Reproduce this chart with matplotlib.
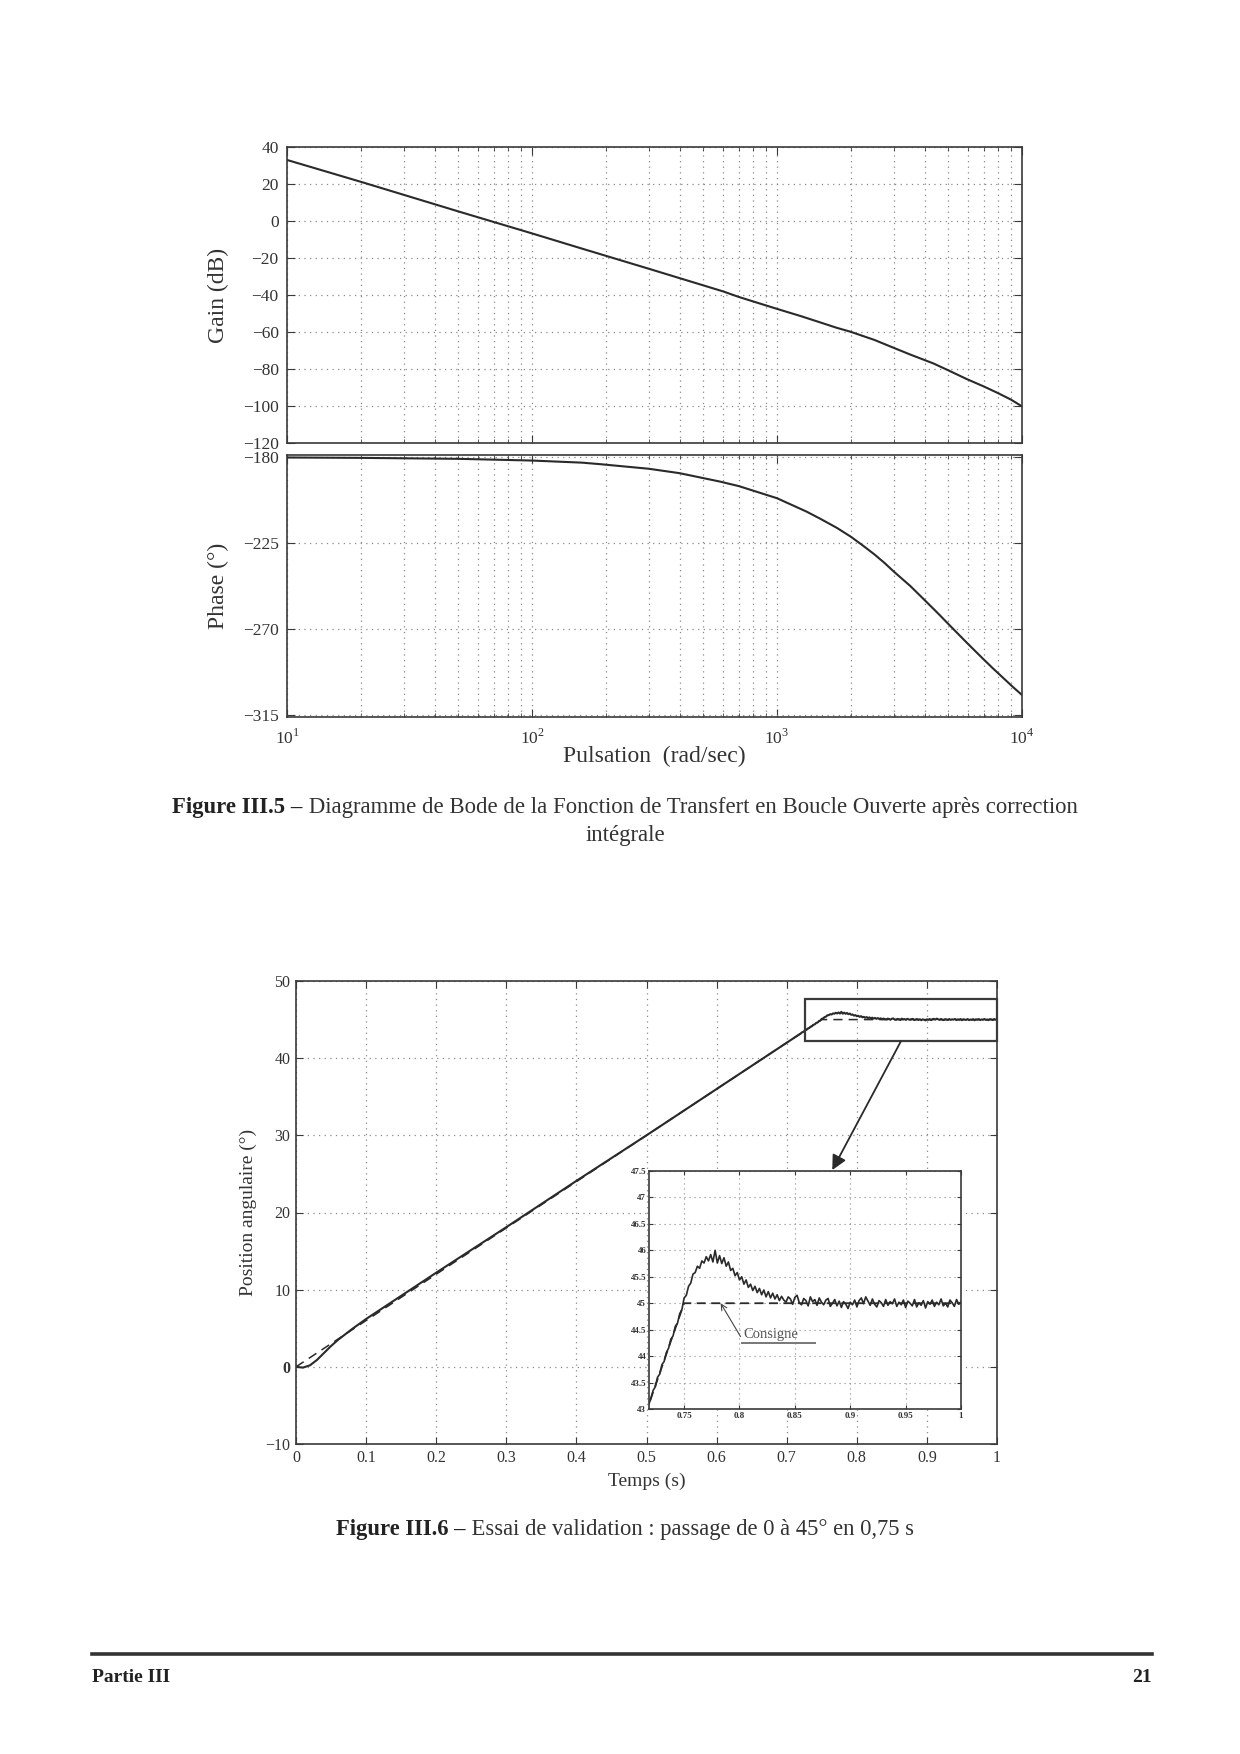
import numpy as np
import matplotlib
matplotlib.use('Agg')
import matplotlib.pyplot as plt
from matplotlib.patches import Rectangle, FancyArrowPatch
from matplotlib.lines import Line2D
from matplotlib.ticker import LogLocator, NullFormatter, FixedLocator

plt.rcParams['font.family'] = ['Liberation Serif', 'DejaVu Serif']
plt.rcParams['mathtext.fontset'] = 'custom'
plt.rcParams['mathtext.rm'] = 'Liberation Serif'
plt.rcParams['axes.unicode_minus'] = True

# ---------------- Data: Bode diagram ----------------
gain_w = [10, 20, 50, 100, 157, 303, 604, 700, 1000, 1250, 1500, 1750, 2000, 2500, 3000, 3500,
          4350, 5000, 5940, 7000, 8000, 9000, 10000]
gain_db = [33.0, 21.2, 5.2, -6.7, -14.6, -26.0, -38.1, -41.1, -47.5, -51.4, -54.8, -57.7, -59.9,
           -64.3, -68.6, -72.2, -77.0, -80.7, -85.4, -89.5, -93.1, -96.5, -100.2]

phase_w = [10, 20, 50, 100, 160, 190, 300, 400, 585, 700, 1000, 1320, 1500, 1750, 2000, 2250,
           2500, 2750, 3000, 3500, 4000, 4500, 5000, 5500, 6000, 6800, 7600, 8500, 9200, 10000]
phase_deg = [-180.3, -180.5, -181.0, -181.9, -183.0, -183.8, -186.2, -188.5, -192.9, -195.3,
             -201.6, -208.6, -212.3, -217.0, -221.7, -226.5, -231.0, -235.5, -240.0, -247.5,
             -254.8, -261.3, -267.3, -272.7, -277.6, -284.5, -290.5, -296.3, -300.4, -304.5]

gain_ticks = [40, 20, 0, -20, -40, -60, -80, -100, -120]
phase_ticks = [-180, -225, -270, -315]
freq_ticks = [10, 100, 1000, 10000]
freq_labels = [r'$10^{1}$', r'$10^{2}$', r'$10^{3}$', r'$10^{4}$']

# ---------------- Data: time response ----------------
t_coarse = [0.0, 0.01, 0.02, 0.03, 0.04, 0.05, 0.06, 0.07, 0.08, 0.10, 0.15, 0.20, 0.30, 0.40,
            0.50, 0.60, 0.70, 0.71]
pos_coarse = [0.0, -0.1, 0.2, 0.9, 1.8, 2.7, 3.5, 4.2, 4.9, 6.2, 9.2, 12.2, 18.1, 24.1, 30.0,
              36.0, 42.0, 42.6]
t_fine = list(np.round(0.718 + 0.002 * np.arange(142), 3))
pos_fine = [43.08, 43.20, 43.35, 43.42, 43.60, 43.66, 43.84, 43.90, 44.07, 44.15,
            44.32, 44.38, 44.56, 44.62, 44.80, 44.88, 45.10, 45.15, 45.32, 45.38,
            45.55, 45.58, 45.70, 45.66, 45.80, 45.76, 45.88, 45.80, 45.92, 45.78,
            46.00, 45.76, 45.90, 45.75, 45.86, 45.70, 45.78, 45.62, 45.66, 45.52,
            45.58, 45.44, 45.50, 45.36, 45.44, 45.30, 45.36, 45.24, 45.32, 45.20,
            45.28, 45.16, 45.25, 45.12, 45.22, 45.10, 45.19, 45.08, 45.16, 45.05,
            45.13, 45.06, 45.02, 45.12, 45.08, 44.98, 45.11, 45.15, 45.01, 44.97,
            45.09, 45.05, 44.95, 45.12, 45.03, 45.07, 44.96, 45.10, 45.02, 44.97,
            45.06, 45.09, 44.94, 45.00, 45.07, 44.95, 45.04, 44.92, 45.03, 44.98,
            44.90, 45.02, 44.97, 45.06, 44.93, 45.05, 45.10, 44.99, 45.12, 45.04,
            44.96, 45.08, 44.98, 44.93, 45.05, 45.01, 44.94, 45.07, 44.96, 45.03,
            44.99, 45.08, 44.94, 45.02, 44.97, 45.06, 44.92, 45.04, 45.00, 44.95,
            45.07, 44.93, 45.01, 44.96, 45.05, 44.91, 45.03, 44.98, 45.06, 44.94,
            45.02, 44.97, 45.08, 44.95, 45.00, 44.93, 45.06, 45.01, 44.94, 45.07,
            44.98, 45.03]
t_ref = [0.0, 0.75, 1.0]
pos_ref = [0.0, 45.0, 45.0]

time_ticks = [0, 0.1, 0.2, 0.3, 0.4, 0.5, 0.6, 0.7, 0.8, 0.9, 1]
time_labels = ['0', '0.1', '0.2', '0.3', '0.4', '0.5', '0.6', '0.7', '0.8', '0.9', '1']
pos_ticks = [-10, 0, 10, 20, 30, 40, 50]
pos_labels = ['\u221210', '0', '10', '20', '30', '40', '50']
inset_xticks = [0.75, 0.8, 0.85, 0.9, 0.95, 1.0]
inset_xlabels = ['0.75', '0.8', '0.85', '0.9', '0.95', '1']
inset_yticks = [43, 43.5, 44, 44.5, 45, 45.5, 46, 46.5, 47, 47.5]
inset_ylabels = ['43', '43.5', '44', '44.5', '45', '45.5', '46', '46.5', '47', '47.5']

t_all = list(t_coarse) + t_fine
pos_all = list(pos_coarse) + pos_fine

# ---------------- Figure ----------------
W, H = 1240, 1754
fig = plt.figure(figsize=(W / 100, H / 100), dpi=100)
fig.patch.set_facecolor('white')


def rect(l, t, r, b):
    return [l / W, 1 - b / H, (r - l) / W, (b - t) / H]


LINE = '#2a2a2a'
SPINE = '#3a3a3a'
GRID = '#8a8a8a'
GRID_LS = (0, (1, 3.5))


def style_axes(ax, lw=1.2):
    for s in ax.spines.values():
        s.set_color(SPINE)
        s.set_linewidth(lw)
    ax.tick_params(which='both', direction='in', top=True, right=True, colors=SPINE,
                   labelcolor='#333333')


# Gain axes
axg = fig.add_axes(rect(287, 147, 1022, 443))
axg.semilogx(gain_w, gain_db, color=LINE, lw=1.5)
axg.set_xlim(10, 10000)
axg.set_ylim(-120, 40)
axg.set_yticks(gain_ticks)
axg.set_yticklabels([('\u2212' + str(-v)) if v < 0 else str(v) for v in gain_ticks])
axg.xaxis.set_major_locator(FixedLocator(freq_ticks))
axg.xaxis.set_minor_locator(LogLocator(base=10, subs=range(2, 10)))
axg.xaxis.set_minor_formatter(NullFormatter())
axg.set_xticklabels([])
style_axes(axg)
axg.tick_params(which='major', length=6, labelsize=12.5, pad=6)
axg.tick_params(which='minor', length=3)
axg.grid(True, which='both', axis='x', ls=GRID_LS, color=GRID, lw=0.9)
axg.grid(True, which='major', axis='y', ls=GRID_LS, color=GRID, lw=0.9)
axg.set_ylabel('Gain (dB)', fontsize=17, color='#333333')
axg.yaxis.set_label_coords(-0.079, 0.5)

# Phase axes
axp = fig.add_axes(rect(287, 455, 1022, 717))
axp.semilogx(phase_w, phase_deg, color=LINE, lw=1.5)
axp.set_xlim(10, 10000)
axp.set_ylim(-316, -179)
axp.set_yticks(phase_ticks)
axp.set_yticklabels(['\u2212' + str(-v) for v in phase_ticks])
axp.xaxis.set_major_locator(FixedLocator(freq_ticks))
axp.xaxis.set_minor_locator(LogLocator(base=10, subs=range(2, 10)))
axp.xaxis.set_minor_formatter(NullFormatter())
axp.set_xticklabels(freq_labels)
style_axes(axp)
axp.tick_params(which='major', length=6, labelsize=12.5, pad=6)
axp.tick_params(axis='x', which='major', pad=8)
axp.tick_params(which='minor', length=3)
axp.grid(True, which='both', axis='x', ls=GRID_LS, color=GRID, lw=0.9)
axp.grid(True, which='major', axis='y', ls=GRID_LS, color=GRID, lw=0.9)
axp.set_ylabel('Phase (\u00b0)', fontsize=17, color='#333333')
axp.yaxis.set_label_coords(-0.079, 0.5)
axp.set_xlabel('Pulsation  (rad/sec)', fontsize=17, color='#333333')
axp.xaxis.set_label_coords(0.5, -0.112)

# Main time-response axes
axm = fig.add_axes(rect(296, 981, 997, 1444))
axm.plot(t_ref, pos_ref, color=LINE, lw=1.1, ls=(0, (6, 4)))
axm.plot(t_all, pos_all, color=LINE, lw=1.5)
axm.set_xlim(0, 1)
axm.set_ylim(-10, 50)
axm.set_xticks(time_ticks)
axm.set_xticklabels(time_labels)
axm.set_yticks(pos_ticks)
axm.set_yticklabels(pos_labels)
style_axes(axm)
axm.tick_params(which='major', length=5, labelsize=11.5, pad=4)
for lab in axm.get_yticklabels():
    if lab.get_text() == '0':
        lab.set_fontweight('bold')
axm.grid(True, ls=GRID_LS, color=GRID, lw=0.9)
axm.set_ylabel('Position angulaire (\u00b0)', fontsize=14, color='#333333')
axm.yaxis.set_label_coords(-0.056, 0.5)
axm.set_xlabel('Temps (s)', fontsize=14, color='#333333')
axm.xaxis.set_label_coords(0.5, -0.061)

# Zoom box and arrow
axm.add_patch(Rectangle((0.726, 42.2), 0.274, 5.5, fill=False, edgecolor=SPINE, lw=1.6,
                        clip_on=False, zorder=5))
arr = FancyArrowPatch((0.863, 42.2), (0.765, 25.5), arrowstyle='-|>', mutation_scale=22,
                      color=LINE, lw=1.3, clip_on=False, zorder=6, shrinkA=0, shrinkB=0)
axm.add_patch(arr)

# Inset axes
axi = fig.add_axes(rect(649, 1171, 961, 1409))
axi.set_facecolor('white')
axi.plot(t_ref, pos_ref, color=LINE, lw=1.3, ls=(0, (5, 3)))
axi.plot(t_all, pos_all, color=LINE, lw=1.2)
axi.set_xlim(0.7183, 1.0)
axi.set_ylim(43, 47.5)
axi.set_xticks(inset_xticks)
axi.set_xticklabels(inset_xlabels)
axi.set_yticks(inset_yticks)
axi.set_yticklabels(inset_ylabels)
style_axes(axi, lw=1.2)
axi.tick_params(which='major', length=3, labelsize=6.5, pad=2)
for lab in axi.get_xticklabels() + axi.get_yticklabels():
    lab.set_fontweight('bold')
axi.grid(True, ls=GRID_LS, color=GRID, lw=0.8)
axi.annotate('Consigne', xy=(0.783, 45.0), xytext=(0.8035, 44.28), fontsize=10.5,
             color='#555555', ha='left', va='bottom',
             arrowprops=dict(arrowstyle='->', color='#444444', lw=0.8, shrinkA=0, shrinkB=0,
                             relpos=(0, 0)))
axi.plot([0.802, 0.868], [44.25, 44.25], color='#777777', lw=1.4)

# ---------------- Captions and footer ----------------
renderer = fig.canvas.get_renderer()


def caption(y_px, bold, rest, size, cx=625):
    t1 = fig.text(0, 1 - y_px / H, bold, fontsize=size, fontweight='bold', ha='left',
                  va='baseline', color='#222222')
    t2 = fig.text(0, 1 - y_px / H, rest, fontsize=size, ha='left', va='baseline',
                  color='#333333')
    w1 = t1.get_window_extent(renderer).width
    w2 = t2.get_window_extent(renderer).width
    x0 = cx - (w1 + w2) / 2
    t1.set_x(x0 / W)
    t2.set_x((x0 + w1) / W)


caption(813, 'Figure III.5 \u2013', ' Diagramme de Bode de la Fonction de Transfert en Boucle Ouverte apr\u00e8s correction', 16.4)
fig.text(625 / W, 1 - 841 / H, 'int\u00e9grale', fontsize=16.4, ha='center', va='baseline',
         color='#333333')
caption(1535, 'Figure III.6 \u2013', ' Essai de validation : passage de 0 \u00e0 45\u00b0 en 0,75 s', 16.3)

fig.add_artist(Line2D([92 / W, 1152 / W], [1 - 1654 / H, 1 - 1654 / H], color='#333333', lw=2.6))
fig.text(92 / W, 1 - 1682 / H, 'Partie III', fontsize=14, fontweight='bold', ha='left',
         va='baseline', color='#222222')
fig.text(1152 / W, 1 - 1682 / H, '21', fontsize=14, fontweight='bold', ha='right',
         va='baseline', color='#222222')

fig.savefig('out.png', dpi=100, facecolor='white')
